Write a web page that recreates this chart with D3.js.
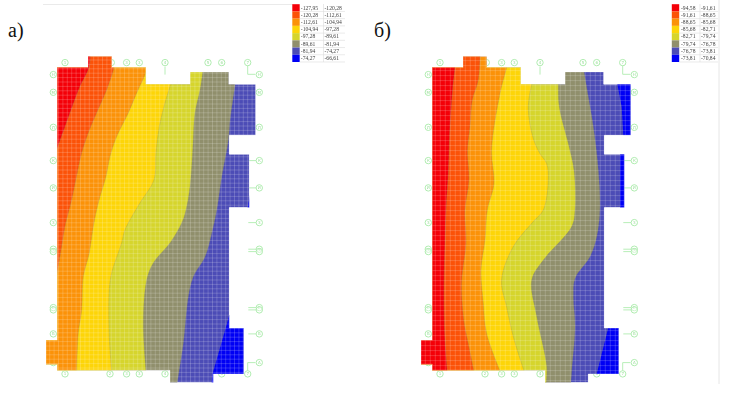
<!DOCTYPE html>
<html>
<head>
<meta charset="utf-8">
<script src="https://cdn.jsdelivr.net/npm/d3@7"></script>
<style>
	html, body { margin: 0; padding: 0; background: #fff; }
	svg { display: block; }
	.soft { filter: blur(0.35px); }
</style>
</head>
<body>
<svg id="chart" width="731" height="395"></svg>
<script>
// band colours, from the lowest band to the highest one
const bandColors = ["#f40008", "#fb5208", "#fb9208", "#fdd508", "#d6d52c", "#908f6c", "#4c4cb6", "#0000f4"];

// legend values
const legendA = [["-127,95", "-120,28"], ["-120,28", "-112,61"], ["-112,61", "-104,94"], ["-104,94", "-97,28"],
	["-97,28", "-89,61"], ["-89,61", "-81,94"], ["-81,94", "-74,27"], ["-74,27", "-66,61"]];
const legendB = [["-94,58", "-91,61"], ["-91,61", "-88,65"], ["-88,65", "-85,68"], ["-85,68", "-82,71"],
	["-82,71", "-79,74"], ["-79,74", "-76,78"], ["-76,78", "-73,81"], ["-73,81", "-70,84"]];

// slab outline in plan units, same for both cases
const outline = [[0, 0], [30.7, 0], [30.7, -11], [54.4, -11], [54.4, 0], [88.4, 0], [88.4, 16.6], [132.7, 16.6],
	[132.7, 4.3], [171.4, 4.3], [171.4, 16.6], [198.4, 16.6], [198.4, 67.6], [172, 67.6], [172, 86.6], [192, 86.6],
	[192, 140], [172, 140], [172, 260.5], [186.4, 260.5], [186.4, 306.3], [156, 306.3], [156, 315], [112.7, 315],
	[112.7, 302.6], [0, 302.6], [0, 296.6], [-11.3, 296.6], [-11.3, 272.6], [0, 272.6]];

// axis bubbles of the plan, "" is the second bubble of a doubled axis
const axisTop = [7.7, 54, 69.3, 82, 107.7, 150.7, 164.4, 190.4];
const axisBottom = [7.7, 52.7, 69.3, 82, 107.7, 164.4, 190.4];
const axisRows = [7, 24.7, 59.7, 93, 120.3, 155, 181.6, 184, 240, 242.3, 266.3, 295];
const axisTopNames = ["1", "2", "3", "3", "4", "5", "6", "7"];
const axisBottomNames = ["1", "2", "3", "3", "4", "6", "7"];
const axisRowNames = ["Н", "М", "Л", "К", "И", "З", "Ж", "", "Е", "", "Б", "А"];
// rows whose bubble on the right has a short leader
const leaderRows = [93, 120.3, 155, 181.6, 184, 240, 242.3, 266.3];

// isolines of case a, from the lowest level to the highest one
const isoA = [
	[[33, -14], [31.7, 0], [22.7, 19], [12.7, 45.3], [6, 64], [0, 80.6], [-3, 90]],
	[[58, -14], [56.7, 0], [49.4, 22.3], [39.4, 45.3], [31, 65.3], [24.4, 85.3], [20, 105.3], [14.4, 132.3], [7.7, 159], [4.4, 179], [0, 204], [-3, 222]],
	[[90, -14], [90, -2], [88.4, 5.3], [79.4, 25.3], [71, 45.3], [59.4, 69], [52.7, 89], [48.7, 109], [41, 135.3], [36, 159], [32, 185.3], [26, 209], [24.4, 242.3], [21, 265.3], [19.4, 304]],
	[[116, -2], [115, 10], [113.4, 16.6], [107.7, 35.3], [102, 59], [98.7, 85.3], [96.7, 112.3], [82.7, 135.3], [67.7, 162.3], [64.4, 175.3], [54.4, 205.3], [52, 222.3], [52, 269], [54.4, 304]],
	[[146, -2], [145.4, 4.3], [142.7, 22.3], [137.7, 45.3], [135.4, 82.3], [132.7, 119], [128.7, 142.3], [124.4, 155.3], [112.7, 175.3], [96, 195.3], [89.4, 212.3], [86, 255.3], [88.7, 304]],
	[[179, 0], [177.7, 16.6], [172.7, 52.3], [171, 72.3], [164.4, 109], [159.4, 142.3], [154.4, 165.3], [147.7, 189], [136, 209], [131, 229], [126, 275.3], [119.4, 318]]
];
// patches of the highest band, case a
const peakA = [
	[[200, 125], [192.7, 127], [190, 142], [200, 142]],
	[[172, 247.3], [166, 269], [155.4, 305.6], [154, 318], [200, 318], [200, 247.3]]
];

// isolines of case b
const isoB = [
	[[23, -5], [22.7, 0], [20.3, 22.7], [17.7, 59.3], [16, 106], [13.7, 142.5], [12.7, 175.8], [11.7, 225.8], [12.7, 272.5], [15, 304]],
	[[48, -14], [46, 12.7], [40, 32.7], [37.7, 59.3], [35.3, 82.7], [36.7, 112.7], [32.7, 142.5], [33.7, 175.8], [29.3, 215.8], [32, 255.8], [36, 275.8], [41.7, 304]],
	[[76, -14], [75, -4], [74.3, 0], [67.7, 26], [59.3, 82.7], [61.7, 116], [55, 142.5], [52.7, 172.5], [48.7, 202.5], [51, 235.8], [54.3, 265.8], [68, 304]],
	[[103, -2], [101, 8], [99.4, 16], [96, 41], [101, 71], [107.7, 86], [114.4, 96], [116, 112.7], [111, 142.5], [101, 154], [81, 179], [69.3, 212.5], [74.3, 239], [81, 269], [92, 304]],
	[[126, -2], [126, 8], [126, 16.3], [127, 39.3], [136, 76], [141.7, 102.7], [142.7, 142.5], [139.4, 159], [111, 192.5], [99.4, 212.5], [104.4, 249], [114.4, 299], [113.7, 318]],
	[[150, -5], [151.7, 4.3], [156, 29.3], [161, 59.3], [166, 102.7], [167.5, 142.5], [164.4, 169], [157.7, 189], [142.7, 210.8], [141, 229], [142.7, 259], [139.4, 302.5], [138.4, 318]]
];
const peakB = [
	[[184, 10], [185, 16.3], [189.4, 39.3], [191, 67.7], [205, 67.7], [205, 10]],
	[[187.7, 84], [187.7, 142], [200, 142], [200, 84]],
	[[176, 260], [164.4, 306.5], [164, 318], [215, 318], [215, 260]]
];

const axisColor = "#b0ecb0";
const textFont = "'Liberation Serif', 'Times New Roman', serif";

// draw one case of the slab; originX is where plan 0 falls on the page
function drawPlan(svg, name, originX, iso, peak, meshStep) {
	const x = d3.scaleLinear().domain([0, 198.4]).range([originX, originX + 198.4]);
	const y = d3.scaleLinear().domain([0, 302.6]).range([67.6, 370.2]);
	const g = svg.append("g").attr("class", "soft");
	const planLine = d3.line().x(d => x(d[0])).y(d => y(d[1]));

	// bubbles go first, the slab covers the ones under it
	const bubbles = g.append("g");

	function bubble(cx, cy, label) {
		bubbles.append("circle").attr("cx", cx).attr("cy", cy).attr("r", 3.2)
			.attr("fill", "#fff").attr("fill-opacity", 0.4).attr("stroke", axisColor).attr("stroke-width", 1);
		if (label !== "") {
			bubbles.append("text").attr("x", cx).attr("y", cy + 1.4).attr("text-anchor", "middle")
				.attr("font-size", 4).attr("font-family", "'DejaVu Sans', sans-serif").attr("fill", "#9ade9a").text(label);
		}
	}
	function stub(points) {
		bubbles.append("path").attr("d", planLine(points)).attr("fill", "none")
			.attr("stroke", axisColor).attr("stroke-width", 0.9);
	}

	axisTop.forEach((u, i) => bubble(x(u), y(-5), axisTopNames[i]));
	axisBottom.forEach((u, i) => bubble(x(u), y(306.3), axisBottomNames[i]));
	axisRows.forEach((v, i) => {
		bubble(x(-4), y(v), axisRowNames[i]);
		bubble(x(202), y(v), axisRowNames[i]);
	});
	leaderRows.forEach(v => stub([[191, v], [198.7, v]]));
	stub([[107.7, -1], [107.7, 7]]);
	stub([[190.4, -2], [190.4, 6.7], [198, 6.7]]);
	stub([[190.4, 303], [190.4, 295], [198, 295]]);

	// clip everything to the slab outline
	const clipId = "clip-" + name;
	const closed = d3.line().x(d => x(d[0])).y(d => y(d[1])).curve(d3.curveLinearClosed);
	const outlinePath = closed(outline);
	svg.append("clipPath").attr("id", clipId).append("path").attr("d", outlinePath);

	const body = g.append("g").attr("clip-path", "url(#" + clipId + ")");

	// base is the band just under the highest one
	body.append("path").attr("d", outlinePath).attr("fill", bandColors[6]);

	peak.forEach(p => {
		body.append("path").attr("d", closed(p)).attr("fill", bandColors[7]);
	});

	// each band fills all the way to the left, higher bands first
	const fillLeft = d3.area().x0(x(-20)).x1(d => x(d[0])).y(d => y(d[1])).curve(d3.curveCatmullRom);
	const edge = d3.line().x(d => x(d[0])).y(d => y(d[1])).curve(d3.curveCatmullRom);
	for (let i = iso.length - 1; i >= 0; i--) {
		body.append("path").attr("d", fillLeft(iso[i])).attr("fill", bandColors[i]);
		body.append("path").attr("d", edge(iso[i])).attr("fill", "none")
			.attr("stroke", "#8a8a60").attr("stroke-opacity", 0.45).attr("stroke-width", 0.6);
	}

	// mesh of the finite elements
	const mesh = body.append("g").attr("stroke", "#fff").attr("stroke-opacity", 0.26).attr("stroke-width", 0.7);
	d3.range(-12, 200, meshStep).forEach(u => {
		mesh.append("line").attr("x1", x(u)).attr("x2", x(u)).attr("y1", y(-12)).attr("y2", y(316));
	});
	d3.range(-12, 316, meshStep).forEach(v => {
		mesh.append("line").attr("x1", x(-12)).attr("x2", x(199)).attr("y1", y(v)).attr("y2", y(v));
	});

	// pale edge round the slab
	g.append("path").attr("d", outlinePath).attr("fill", "none")
		.attr("stroke", "#fff").attr("stroke-opacity", 0.5).attr("stroke-width", 0.6);
}

// colour scale table next to each plan
function drawLegend(svg, values, swatchX, col1, col2, right) {
	const y = d3.scaleBand().domain(d3.range(values.length)).range([4.2, 62]);
	const g = svg.append("g").attr("class", "soft");

	y.domain().forEach(i => {
		g.append("rect").attr("x", swatchX).attr("y", y(i)).attr("width", 7.4).attr("height", y.bandwidth())
			.attr("fill", bandColors[i]);
		g.append("line").attr("x1", swatchX + 7.4).attr("x2", right).attr("y1", y(i) + y.bandwidth()).attr("y2", y(i) + y.bandwidth())
			.attr("stroke", "#dcdcdc").attr("stroke-width", 0.6);
		g.append("text").attr("x", col1).attr("y", y(i) + 5.3).attr("font-size", 5.6)
			.attr("font-family", textFont).attr("fill", "#444").text(values[i][0]);
		g.append("text").attr("x", col2).attr("y", y(i) + 5.3).attr("font-size", 5.6)
			.attr("font-family", textFont).attr("fill", "#444").text(values[i][1]);
	});
	g.append("line").attr("x1", col2 - 1).attr("x2", col2 - 1).attr("y1", 4).attr("y2", 62)
		.attr("stroke", "#dcdcdc").attr("stroke-width", 0.6);
}

const svg = d3.select("#chart");

// hairlines left over from the page the figure was cut from
svg.append("line").attr("x1", 43).attr("x2", 293).attr("y1", 4.5).attr("y2", 4.5)
	.attr("stroke", "#e4e4e4").attr("stroke-width", 0.8);
svg.append("line").attr("x1", 719).attr("x2", 719).attr("y1", 0).attr("y2", 384)
	.attr("stroke", "#e0e0e0").attr("stroke-width", 0.8);

drawPlan(svg, "a", 57.3, isoA, peakA, 4.4);
drawPlan(svg, "b", 432.3, isoB, peakB, 5);

drawLegend(svg, legendA, 292.3, 300.8, 324.5, 345);
drawLegend(svg, legendB, 671.8, 681, 701, 718);

svg.append("text").attr("x", 8).attr("y", 37).attr("font-size", 20).attr("font-family", textFont).attr("fill", "#111").text("а)");
svg.append("text").attr("x", 374).attr("y", 37).attr("font-size", 20).attr("font-family", textFont).attr("fill", "#111").text("б)");
</script>
</body>
</html>
